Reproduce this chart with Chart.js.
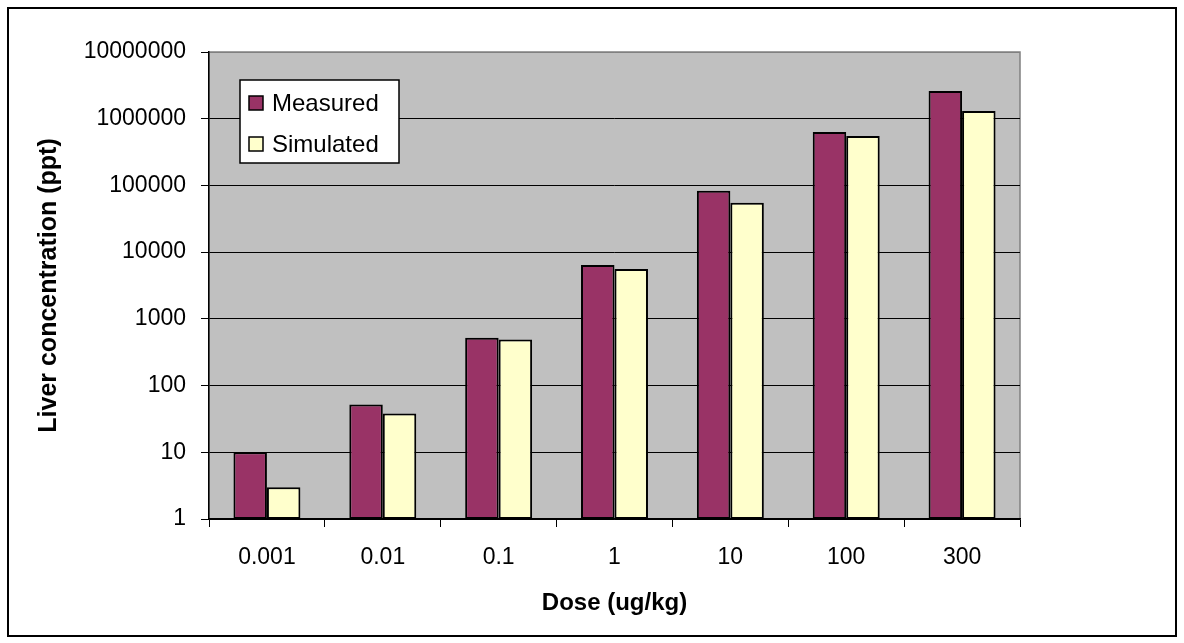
<!DOCTYPE html>
<html>
<head>
<meta charset="utf-8">
<script src="https://cdn.jsdelivr.net/npm/chart.js@4/dist/chart.umd.min.js"></script>
<style>
  html, body { margin: 0; padding: 0; background: #fff; }
  #wrap { width: 1184px; height: 643px; position: relative; }
</style>
</head>
<body>
<div id="wrap"><canvas id="chart"></canvas></div>
<script>
const doseLabels = ['0.001', '0.01', '0.1', '1', '10', '100', '300'];
const measured = [10, 52, 520, 6400, 83000, 630000, 2600000];
const simulated = [3, 38, 490, 5600, 55000, 550000, 1300000];
const yTickValues = [1, 10, 100, 1000, 10000, 100000, 1000000, 10000000];

const FONT = '"Liberation Sans", Arial, sans-serif';

// gray plot background + outer frame
const frame = {
  id: 'frame',
  beforeDraw(chart) {
    const { ctx, chartArea: a } = chart;
    ctx.save();
    ctx.fillStyle = '#c0c0c0';
    ctx.fillRect(a.left, a.top, a.right - a.left, a.bottom - a.top);
    ctx.strokeStyle = '#808080';
    ctx.lineWidth = 1.5;
    ctx.strokeRect(a.left, a.top, a.right - a.left, a.bottom - a.top);
    ctx.restore();
  },
  afterDraw(chart) {
    const ctx = chart.ctx;
    ctx.save();
    ctx.strokeStyle = '#000';
    ctx.lineWidth = 2;
    ctx.strokeRect(8, 8, 1168, 628);
    ctx.restore();
  }
};

// legend box inside the plot, like the Excel one
const boxLegend = {
  id: 'boxLegend',
  afterDatasetsDraw(chart) {
    const ctx = chart.ctx;
    const x = 240, y = 80, w = 159, h = 83;
    ctx.save();
    ctx.fillStyle = '#fff';
    ctx.fillRect(x, y, w, h);
    ctx.strokeStyle = '#000';
    ctx.lineWidth = 1.5;
    ctx.strokeRect(x, y, w, h);
    ctx.font = '24px ' + FONT;
    ctx.textBaseline = 'middle';
    chart.data.datasets.forEach((ds, i) => {
      const cy = y + 23 + i * 41;
      ctx.fillStyle = ds.backgroundColor;
      ctx.fillRect(x + 9, cy - 7, 14, 14);
      ctx.strokeStyle = '#000';
      ctx.lineWidth = 1.5;
      ctx.strokeRect(x + 9, cy - 7, 14, 14);
      ctx.fillStyle = '#000';
      ctx.fillText(ds.label, x + 32, cy + 1);
    });
    ctx.restore();
  }
};

new Chart(document.getElementById('chart'), {
  type: 'bar',
  data: {
    labels: doseLabels,
    datasets: [
      {
        label: 'Measured',
        data: measured,
        backgroundColor: '#993366',
        borderColor: '#000',
        borderWidth: 2,
        borderSkipped: false
      },
      {
        label: 'Simulated',
        data: simulated,
        backgroundColor: '#ffffcc',
        borderColor: '#000',
        borderWidth: 2,
        borderSkipped: false
      }
    ]
  },
  options: {
    responsive: true,
    maintainAspectRatio: false,
    animation: false,
    layout: { padding: { left: 0, top: 52, right: 164, bottom: 0 } },
    datasets: {
      bar: { categoryPercentage: 0.578, barPercentage: 1 }
    },
    plugins: {
      legend: { display: false },
      tooltip: { enabled: false }
    },
    scales: {
      x: {
        grid: {
          offset: true,
          drawOnChartArea: false,
          drawTicks: true,
          tickLength: 8,
          color: '#000'
        },
        border: { color: '#000', width: 1.5 },
        ticks: {
          color: '#000',
          font: { family: FONT, size: 23 },
          padding: 17
        },
        title: {
          display: true,
          text: 'Dose (ug/kg)',
          color: '#000',
          font: { family: FONT, size: 24, weight: 'bold' },
          padding: { top: 0, bottom: 25 }
        },
        afterFit(scale) { scale.height = 124; }
      },
      y: {
        type: 'logarithmic',
        min: 1,
        max: 10000000,
        afterBuildTicks(scale) {
          scale.ticks = yTickValues.map(v => ({ value: v }));
        },
        grid: {
          color: ctx => (ctx.tick && ctx.tick.value === 10000000 ? '#808080' : '#000'),
          lineWidth: 1,
          tickLength: 8,
          tickColor: '#000'
        },
        border: { color: '#000', width: 1.5 },
        ticks: {
          color: '#000',
          font: { family: FONT, size: 23 },
          padding: 15,
          callback: v => String(v)
        },
        title: {
          display: true,
          text: 'Liver concentration (ppt)',
          color: '#000',
          font: { family: FONT, size: 25, weight: 'bold' },
          padding: { top: 34, bottom: 0 }
        },
        afterFit(scale) { scale.width = 209; }
      }
    }
  },
  plugins: [frame, boxLegend]
});
</script>
</body>
</html>
